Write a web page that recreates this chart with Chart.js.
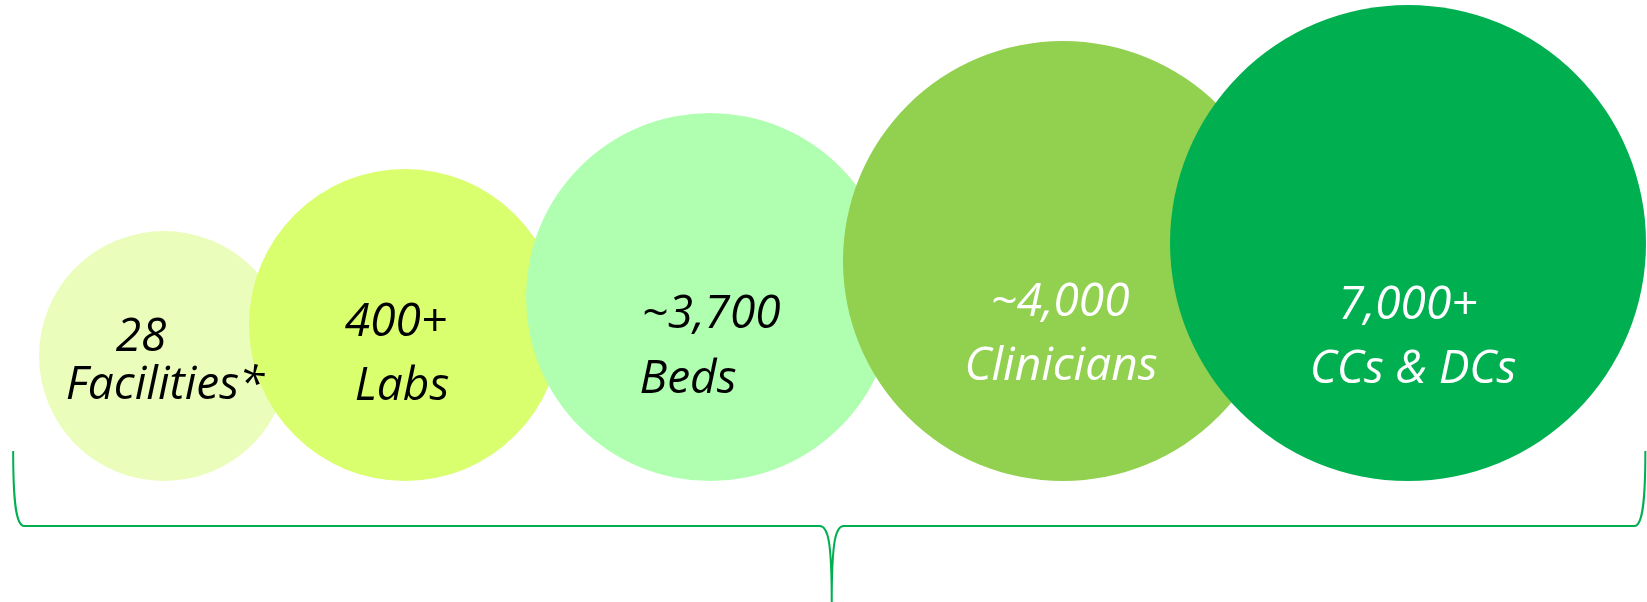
<!DOCTYPE html>
<html>
<head>
<meta charset="utf-8">
<script src="https://cdn.jsdelivr.net/npm/chart.js@4/dist/chart.umd.min.js"></script>
<style>
  html, body { margin: 0; padding: 0; background: #fff; }
  #wrap { width: 1647px; height: 602px; position: relative; }
</style>
</head>
<body>
<div id="wrap"><canvas id="bubbleChart"></canvas></div>
<script>
// data
const amounts = ['28', '400+', '~3,700', '~4,000', '7,000+'];
const categories = ['Facilities*', 'Labs', 'Beds', 'Clinicians', 'CCs & DCs'];
const bubbleX = [9.96, 24.59, 43.11, 64.54, 85.49];  // horizontal position, 0-100 scale
const bubbleSize = [125, 156, 184, 220, 238];         // bubble radius

const colors = ['#EAFDBA', '#D9FE6E', '#B0FFB0', '#92D050', '#00B050'];
const textColors = ['#000', '#000', '#000', '#fff', '#fff'];
const baseline = 121;  // all bubbles sit on the same line

// label offsets from the bubble centre: [dx1, dy1, dx2, dy2]
const labelOffsets = [
  [-23, -5, 1, 43],
  [-9, 11, -3, 75],
  [1, 31, -22, 96],
  [-3, 55, -2, 119],
  [0, 76, 5, 140]
];

const bubbles = bubbleX.map((x, i) => ({ x: x, y: baseline + bubbleSize[i], r: bubbleSize[i] }));

const labelPlugin = {
  id: 'bubbleLabels',
  afterDatasetsDraw(chart) {
    const ctx = chart.ctx;
    const meta = chart.getDatasetMeta(0);
    ctx.save();
    ctx.font = 'italic 46px "Open Sans"';
    ctx.textAlign = 'center';
    ctx.textBaseline = 'alphabetic';
    meta.data.forEach((pt, i) => {
      const o = labelOffsets[i];
      ctx.fillStyle = textColors[i];
      ctx.fillText(amounts[i], pt.x + o[0], pt.y + o[1]);
      ctx.fillText(categories[i], pt.x + o[2], pt.y + o[3]);
    });
    ctx.restore();
  }
};

// curly brace under the bubbles
const braceX = { left: 0.8, mid: 50.5, right: 99.9 };
const braceY = { top: 151, level: 76, tip: 0 };

const bracePlugin = {
  id: 'brace',
  afterDraw(chart) {
    const xs = chart.scales.x, ys = chart.scales.y;
    const ctx = chart.ctx;
    const l = xs.getPixelForValue(braceX.left);
    const m = xs.getPixelForValue(braceX.mid);
    const r = xs.getPixelForValue(braceX.right);
    const top = ys.getPixelForValue(braceY.top);
    const lev = ys.getPixelForValue(braceY.level);
    const tip = ys.getPixelForValue(braceY.tip);
    ctx.save();
    ctx.strokeStyle = '#00B050';
    ctx.lineWidth = 2;
    ctx.beginPath();
    ctx.moveTo(l, top);
    ctx.bezierCurveTo(l, lev - 30, l + 2, lev, l + 11, lev);
    ctx.lineTo(m - 12, lev);
    ctx.bezierCurveTo(m - 4, lev, m, lev + 14, m, tip);
    ctx.moveTo(m, tip);
    ctx.bezierCurveTo(m, lev + 14, m + 4, lev, m + 12, lev);
    ctx.lineTo(r - 11, lev);
    ctx.bezierCurveTo(r - 2, lev, r, lev - 30, r, top);
    ctx.stroke();
    ctx.restore();
  }
};

new Chart(document.getElementById('bubbleChart').getContext('2d'), {
  type: 'bubble',
  data: {
    datasets: [{
      data: bubbles,
      backgroundColor: colors,
      borderWidth: 0,
      hoverRadius: 0,
      clip: false
    }]
  },
  options: {
    responsive: true,
    maintainAspectRatio: false,
    animation: false,
    events: [],
    layout: { padding: 0, autoPadding: false },
    plugins: {
      legend: { display: false },
      tooltip: { enabled: false }
    },
    scales: {
      x: { type: 'linear', min: 0, max: 100, display: false },
      y: { type: 'linear', min: 0, max: 602, display: false }
    }
  },
  plugins: [labelPlugin, bracePlugin]
});
</script>
</body>
</html>
